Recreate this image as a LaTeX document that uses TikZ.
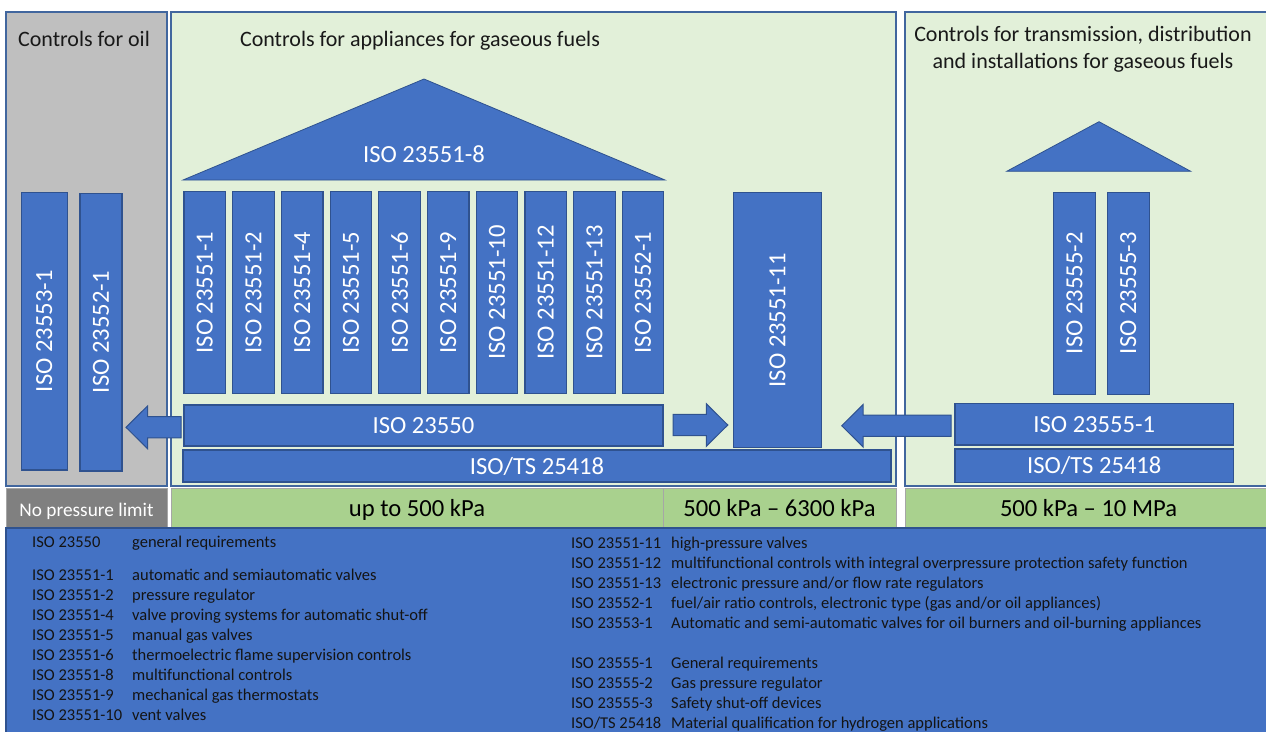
\documentclass[tikz,border=0pt]{standalone}
\usepackage{fontspec}
\setmainfont{Carlito}
\usepackage{graphicx}
\usetikzlibrary{calc}
\definecolor{barblue}{HTML}{4472C4}
\definecolor{barline}{HTML}{2F528F}
\definecolor{panelline}{HTML}{41669E}
\definecolor{oilgray}{HTML}{BFBFBF}
\definecolor{panelgreen}{HTML}{E2F0D9}
\definecolor{bandgreen}{HTML}{A9D18E}
\definecolor{bandgray}{HTML}{808080}
\definecolor{legtext}{HTML}{141414}
\newcommand\rectnode[7]{\node[#1, minimum width={#5-#3}, minimum height={#6-#4}] (#2) at (#3,#4) {#7};}
\newcommand\arrowL[2]{\filldraw[arrowsty] let \p1=#1, \p2=#2 in (\x1,\y1+10.6pt) -- (\x2+21.5pt,\y1+10.6pt) -- (\x2+21.5pt,\y1+21.3pt) -- (\x2,\y1) -- (\x2+21.5pt,\y1-21.3pt) -- (\x2+21.5pt,\y1-10.6pt) -- (\x1,\y1-10.6pt) -- cycle;}
\newcommand\arrowR[2]{\filldraw[arrowsty] let \p1=#1, \p2=#2 in (\x1,\y1+10.6pt) -- (\x2-21.5pt,\y1+10.6pt) -- (\x2-21.5pt,\y1+21.3pt) -- (\x2,\y1) -- (\x2-21.5pt,\y1-21.3pt) -- (\x2-21.5pt,\y1-10.6pt) -- (\x1,\y1-10.6pt) -- cycle;}
\newcommand\vt[1]{\rotatebox{90}{#1}}
\begin{document}
\begin{tikzpicture}[x=1pt,y=-1pt,
  box/.style={rectangle, inner sep=0pt, outer sep=0pt, anchor=north west},
  bar/.style={box, fill=barblue, draw=barline, line width=1.2pt, text=white, font=\fontsize{24.6}{29}\selectfont},
  panel/.style={box, draw=panelline, line width=1.3pt},
  band/.style={box, draw=black!35, line width=0.6pt, text height=17.4pt, text depth=0pt, font=\fontsize{24.6}{29}\selectfont},
  title/.style={anchor=base, inner sep=0pt, font=\fontsize{22}{26}\selectfont, text=black!90},
  legitem/.style={anchor=base west, inner sep=0pt, text=legtext, font=\fontsize{16.5}{20}\selectfont},
  tri/.style={fill=barblue, draw=barline, line width=0.8pt, line join=miter},
  arrowsty/.style={fill=barblue, draw=barline, line width=1pt, line join=miter}]
\useasboundingbox (0,0) rectangle (1266,731);
\fill[white] (0,0) rectangle (1266,731);
% panels
\rectnode{panel, fill=oilgray}{poil}{6}{12}{167}{486}{}
\rectnode{panel, fill=panelgreen}{papp}{171}{12}{896}{486}{}
\rectnode{panel, fill=panelgreen}{ptrans}{905}{12}{1272}{486}{}
\node[title] (toil) at (84,46.7) {Controls for oil};
\node[title] (tapp) at (420,46.7) {Controls for appliances for gaseous fuels};
\node[title] (ttr1) at (1083,41.7) {Controls for transmission, distribution};
\node[title] (ttr2) at (1083,68.3) {and installations for gaseous fuels};
% pressure bands
\rectnode{band, fill=bandgray, text=white, font=\fontsize{19.3}{23}\selectfont}{bnone}{6}{488}{167}{528}{No pressure limit}
\rectnode{band, fill=bandgreen}{b500}{171}{488}{663}{528}{up to 500 kPa}
\rectnode{band, fill=bandgreen}{b6300}{663}{488}{896}{528}{500 kPa – 6300 kPa}
\rectnode{band, fill=bandgreen}{b10}{905}{488}{1272}{528}{500 kPa – 10 MPa}
% legend
\rectnode{box, fill=barblue, draw=barline, line width=1.2pt}{legend}{6}{528}{1272}{736}{}
% roof triangles
\coordinate (roofL) at (183,180); \coordinate (roofT) at (424,79); \coordinate (roofR) at (665,180);
\filldraw[tri] (roofL) -- (roofT) -- (roofR) -- cycle;
\node[inner sep=0pt, text=white, font=\fontsize{24.6}{29}\selectfont] (t8) at (424,154.5) {ISO 23551-8};
\coordinate (rroofL) at (1006.7,171.3); \coordinate (rroofT) at (1099,121.7); \coordinate (rroofR) at (1190.7,171.3);
\filldraw[tri] (rroofL) -- (rroofT) -- (rroofR) -- cycle;
% appliance columns
\foreach \n/\xx/\t in {1/184/ISO 23551-1, 2/232.7/ISO 23551-2, 3/281.4/ISO 23551-4, 4/330.1/ISO 23551-5, 5/378.8/ISO 23551-6, 6/427.5/ISO 23551-9, 7/476.2/ISO 23551-10, 8/524.9/ISO 23551-12, 9/573.6/ISO 23551-13, 10/622.3/ISO 23552-1}{
  \rectnode{bar}{g\n}{\xx}{191.5}{\xx+41.5}{393.5}{\vt{\t}}
}
\rectnode{bar}{a11}{733.3}{192.7}{821.7}{447.7}{\vt{ISO 23551-11}}
\rectnode{bar}{a23550}{184}{405}{663}{446}{ISO 23550}
\rectnode{bar}{ts1}{183}{450}{891}{482}{ISO/TS 25418}
% oil columns
\rectnode{bar}{o1}{21.3}{192.3}{67.3}{470}{\vt{ISO 23553-1}}
\rectnode{bar}{o2}{80}{193.3}{122}{471}{\vt{ISO 23552-1}}
% transmission
\rectnode{bar}{r2}{1053.3}{192.3}{1095.7}{394.3}{\vt{ISO 23555-2}}
\rectnode{bar}{r3}{1107.3}{192.3}{1149.3}{394.3}{\vt{ISO 23555-3}}
\rectnode{bar}{r1}{955}{403.5}{1233.5}{445}{ISO 23555-1}
\rectnode{bar}{ts2}{955}{449}{1233.5}{482.3}{ISO/TS 25418}
% block arrows
\arrowL{($(a23550.west)+(-3,1.8)$)}{($(o2.east)+(4,0)$)}
\arrowR{($(a23550.east)+(10,-0.5)$)}{($(a11.west)+(-5.5,0)$)}
\arrowL{($(r1.west)+(-4,1.5)$)}{($(a11.east)+(20,0)$)}
% legend, left column
\foreach \n/\yy/\c/\d in {1/547/ISO 23550/general requirements, 2/580.5/ISO 23551-1/automatic and semiautomatic valves, 3/600.5/ISO 23551-2/pressure regulator, 4/620.5/ISO 23551-4/valve proving systems for automatic shut-off, 5/640.5/ISO 23551-5/manual gas valves, 6/660.5/ISO 23551-6/thermoelectric flame supervision controls, 7/680.5/ISO 23551-8/multifunctional controls, 8/700.5/ISO 23551-9/mechanical gas thermostats, 9/720.5/ISO 23551-10/vent valves}{
  \node[legitem] (lc\n) at (32,\yy) {\c};
  \node[legitem] (ld\n) at (132,\yy) {\d};
}
% legend, right column
\foreach \n/\yy/\c/\d in {1/548.3/ISO 23551-11/high-pressure valves, 2/568.3/ISO 23551-12/multifunctional controls with integral overpressure protection safety function, 3/588.3/ISO 23551-13/electronic pressure and\slash or flow rate regulators, 4/608.3/ISO 23552-1/{fuel\slash air ratio controls, electronic type (gas and\slash or oil appliances)}, 5/628.3/ISO 23553-1/Automatic and semi-automatic valves for oil burners and oil-burning appliances, 6/668.6/ISO 23555-1/General requirements, 7/688.6/ISO 23555-2/Gas pressure regulator, 8/708.6/ISO 23555-3/Safety shut-off devices, 9/728.6/ISO\slash TS 25418/Material qualification for hydrogen applications}{
  \node[legitem] (rc\n) at (571,\yy) {\c};
  \node[legitem] (rd\n) at (671,\yy) {\d};
}
\end{tikzpicture}
\end{document}
